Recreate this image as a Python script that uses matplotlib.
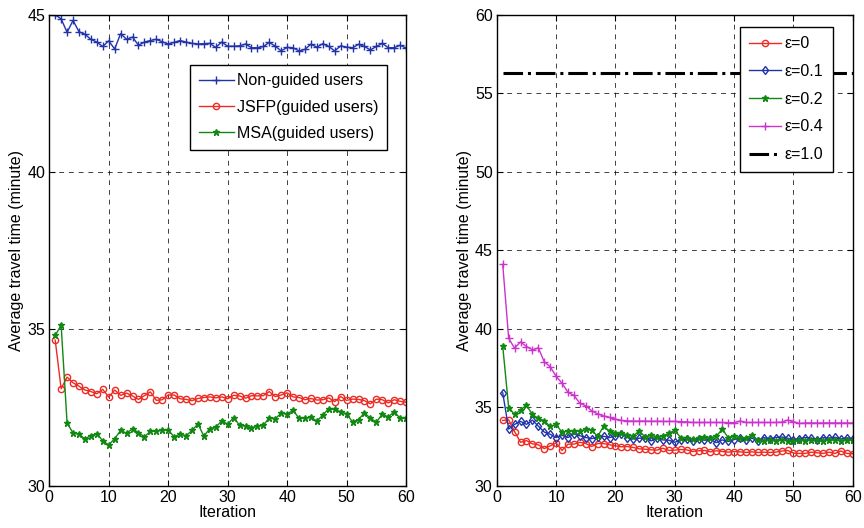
import matplotlib
matplotlib.use('Agg')
import matplotlib.pyplot as plt
import numpy as np

plt.rcParams['font.family'] = ['Liberation Sans', 'DejaVu Sans']

# ------------------------------------------------------------------
# Data
iters = np.arange(1, 61)

non_guided = [45.0, 44.87, 44.44, 44.82, 44.46, 44.38, 44.22, 44.13, 43.99, 44.17,
              43.91, 44.40, 44.22, 44.29, 44.03, 44.13, 44.18, 44.22, 44.14, 44.07,
              44.12, 44.18, 44.13, 44.09, 44.07, 44.08, 44.09, 43.96, 44.13, 44.00,
              44.00, 44.01, 44.07, 43.95, 43.95, 43.99, 44.12, 44.00, 43.85, 43.96,
              43.95, 43.85, 43.90, 44.06, 43.97, 44.08, 43.99, 43.85, 44.01, 43.97,
              43.95, 44.06, 43.99, 43.88, 43.99, 44.09, 43.95, 43.95, 44.03, 43.94]

jsfp = [34.64, 33.09, 33.46, 33.28, 33.17, 33.05, 33.00, 32.93, 33.07, 32.82,
        33.05, 32.88, 32.95, 32.86, 32.75, 32.87, 32.99, 32.72, 32.74, 32.89,
        32.89, 32.77, 32.75, 32.71, 32.78, 32.81, 32.83, 32.80, 32.83, 32.77,
        32.88, 32.86, 32.79, 32.87, 32.86, 32.87, 33.00, 32.84, 32.89, 32.96,
        32.83, 32.81, 32.74, 32.78, 32.73, 32.74, 32.80, 32.68, 32.84, 32.72,
        32.76, 32.75, 32.71, 32.61, 32.76, 32.74, 32.64, 32.74, 32.69, 32.66]

msa = [34.79, 35.11, 32.00, 31.68, 31.65, 31.49, 31.60, 31.66, 31.43, 31.30,
       31.50, 31.76, 31.67, 31.82, 31.69, 31.56, 31.73, 31.74, 31.77, 31.78,
       31.56, 31.65, 31.59, 31.76, 31.97, 31.58, 31.82, 31.87, 32.06, 31.96,
       32.17, 31.93, 31.90, 31.85, 31.90, 31.92, 32.17, 32.14, 32.31, 32.29,
       32.40, 32.15, 32.15, 32.18, 32.06, 32.25, 32.46, 32.43, 32.36, 32.29,
       32.03, 32.11, 32.32, 32.15, 32.03, 32.28, 32.19, 32.36, 32.15, 32.15]

eps_00 = [34.16, 34.20, 33.45, 32.77, 32.88, 32.67, 32.61, 32.37, 32.54, 32.73,
          32.25, 32.65, 32.65, 32.77, 32.69, 32.50, 32.69, 32.69, 32.61, 32.54,
          32.48, 32.50, 32.44, 32.35, 32.33, 32.29, 32.27, 32.39, 32.25, 32.27,
          32.31, 32.29, 32.18, 32.23, 32.25, 32.16, 32.23, 32.18, 32.14, 32.18,
          32.16, 32.12, 32.16, 32.12, 32.14, 32.12, 32.14, 32.21, 32.25, 32.08,
          32.06, 32.06, 32.14, 32.10, 32.06, 32.14, 32.06, 32.21, 32.06, 32.04]

eps_01 = [35.92, 33.61, 33.91, 34.10, 33.91, 34.18, 33.80, 33.42, 33.28, 33.07,
          33.21, 33.07, 33.30, 33.19, 33.07, 33.00, 33.11, 33.15, 33.07, 33.17,
          33.30, 33.07, 32.98, 33.03, 33.03, 32.86, 33.03, 32.92, 32.90, 32.77,
          32.92, 32.96, 32.88, 32.98, 32.90, 32.96, 32.75, 32.92, 32.82, 32.94,
          33.05, 32.94, 33.03, 32.88, 33.07, 32.98, 33.07, 33.11, 33.03, 32.94,
          33.00, 33.07, 33.03, 32.92, 33.07, 33.03, 33.09, 32.98, 33.05, 33.00]

eps_02 = [38.89, 34.98, 34.54, 34.83, 35.13, 34.54, 34.29, 34.14, 33.78, 33.91,
          33.40, 33.51, 33.47, 33.49, 33.59, 33.53, 33.15, 33.78, 33.49, 33.36,
          33.34, 33.24, 33.17, 33.49, 33.11, 33.24, 33.11, 33.17, 33.34, 33.53,
          33.07, 33.07, 32.98, 33.03, 33.11, 33.07, 33.15, 33.61, 33.07, 33.19,
          33.03, 33.03, 33.24, 32.90, 32.88, 32.90, 32.86, 32.92, 32.88, 32.86,
          32.90, 32.88, 32.92, 32.90, 32.88, 32.90, 32.92, 32.88, 32.90, 32.92]

eps_04 = [44.10, 39.39, 38.76, 39.16, 38.87, 38.66, 38.78, 37.90, 37.58, 36.97,
          36.53, 35.95, 35.76, 35.25, 35.10, 34.77, 34.58, 34.45, 34.35, 34.24,
          34.16, 34.13, 34.12, 34.12, 34.12, 34.11, 34.11, 34.10, 34.10, 34.10,
          34.08, 34.07, 34.03, 34.03, 34.03, 34.03, 34.03, 34.03, 34.02, 34.02,
          34.12, 34.03, 34.03, 34.03, 34.03, 34.03, 34.03, 34.05, 34.18, 34.08,
          33.97, 34.00, 34.00, 34.00, 34.00, 34.00, 34.00, 34.00, 34.00, 34.00]

eps_10 = 56.3  # constant level for eps = 1.0

# ------------------------------------------------------------------
blue = '#2233aa'
red = '#ee2a22'
green = '#118811'
magenta = '#cc33cc'

fig = plt.figure(figsize=(8.64, 5.28), dpi=100)
ax1 = fig.add_axes([0.057, 0.080, 0.413, 0.892])
ax2 = fig.add_axes([0.575, 0.080, 0.412, 0.892])

fs = 11.5

# Left panel
ax1.plot(iters, non_guided, color=blue, marker='+', markersize=5.5, linewidth=1.0,
         label='Non-guided users')
ax1.plot(iters, jsfp, color=red, marker='o', markersize=4.5, markerfacecolor='none',
         linewidth=1.0, label='JSFP(guided users)')
ax1.plot(iters, msa, color=green, marker='*', markersize=5, linewidth=1.0,
         label='MSA(guided users)')
ax1.set_ylim(30, 45)
ax1.set_yticks([30, 35, 40, 45])

# Right panel
ax2.plot(iters, eps_00, color=red, marker='o', markersize=4.5, markerfacecolor='none',
         linewidth=1.0, label='ε=0')
ax2.plot(iters, eps_01, color=blue, marker='d', markersize=4.5, markerfacecolor='none',
         linewidth=1.0, label='ε=0.1')
ax2.plot(iters, eps_02, color=green, marker='*', markersize=5, linewidth=1.0,
         label='ε=0.2')
ax2.plot(iters, eps_04, color=magenta, marker='+', markersize=5.5, linewidth=1.0,
         label='ε=0.4')
ax2.plot([iters[0], iters[-1]], [eps_10, eps_10], color='black', linestyle='-.',
         linewidth=2.2, label='ε=1.0')
ax2.set_ylim(30, 60)
ax2.set_yticks([30, 35, 40, 45, 50, 55, 60])

for ax in (ax1, ax2):
    ax.set_xlim(0, 60)
    ax.set_xticks(np.arange(0, 61, 10))
    ax.grid(True, color='black', linestyle=(0, (5, 5)), linewidth=0.7, alpha=0.75)
    ax.tick_params(direction='in', top=True, right=True, labelsize=fs, length=4, pad=3)
    ax.set_xlabel('Iteration', fontsize=fs, labelpad=0)
    ax.set_ylabel('Average travel time (minute)', fontsize=fs, labelpad=2)
    for s in ax.spines.values():
        s.set_linewidth(1.0)

leg1 = ax1.legend(loc='upper right', bbox_to_anchor=(0.947, 0.894), fontsize=fs,
                  fancybox=False, edgecolor='black', framealpha=1, handlelength=2.2,
                  borderpad=0.55, labelspacing=0.7, handletextpad=0.2, borderaxespad=0)
leg1.get_frame().set_linewidth(1.0)

leg2 = ax2.legend(loc='upper right', bbox_to_anchor=(0.944, 0.975), fontsize=fs,
                  fancybox=False, edgecolor='black', framealpha=1, handlelength=2.0,
                  borderpad=0.6, labelspacing=0.8, handletextpad=0.2, borderaxespad=0)
leg2.get_frame().set_linewidth(1.0)

plt.savefig('out.png', dpi=100)
